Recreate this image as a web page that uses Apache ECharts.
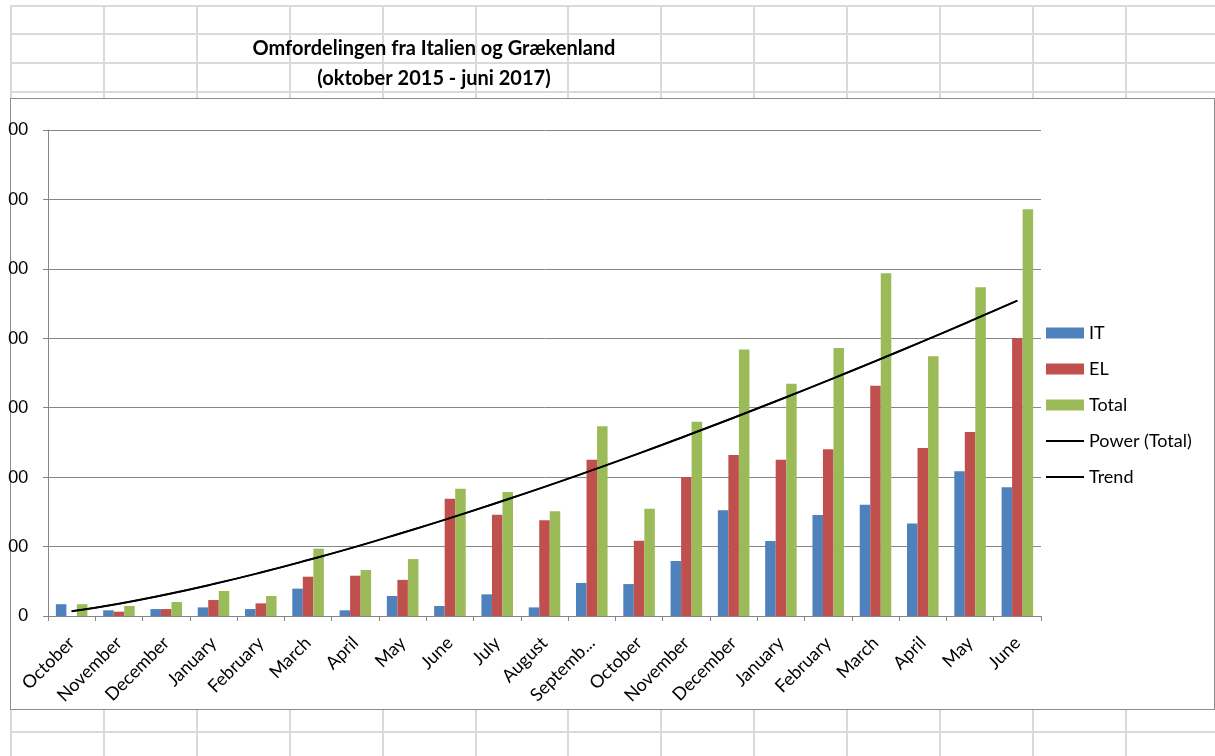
<!DOCTYPE html>
<html>
<head>
<meta charset="utf-8">
<script src="https://cdn.jsdelivr.net/npm/echarts@6/dist/echarts.min.js"></script>
<style>
  html, body { margin: 0; padding: 0; background: #fff; }
  #sheet { position: absolute; left: 0; top: 0; width: 1215px; height: 756px; overflow: hidden; background: #fff; }
  .hl { position: absolute; height: 2px; background: #dadada; }
  .vl { position: absolute; width: 2px; background: #dadada; }
  #box { position: absolute; left: 10px; top: 98px; width: 1203px; height: 610px; background: #fff; border: 1px solid #8c8c8c; }
  #chart { position: absolute; left: 0; top: 0; width: 1215px; height: 756px; }
</style>
</head>
<body>
<div id="sheet"></div>
<div id="box"></div>
<div id="chart"></div>
<script>
// ---- data ----
const categories = ['October','November','December','January','February','March','April','May','June','July','August','September','October','November','December','January','February','March','April','May','June'];
const IT    = [85, 41, 50, 62, 50, 197, 41, 144, 72, 156, 62, 238, 230, 396, 761, 540, 727, 801, 667, 1042, 927];
const EL    = [0, 31, 50, 115, 91, 283, 290, 260, 845, 730, 689, 1125, 542, 1001, 1159, 1125, 1200, 1658, 1210, 1325, 2002];
const Total = [85, 72, 101, 180, 144, 485, 331, 410, 917, 893, 755, 1366, 773, 1399, 1920, 1672, 1930, 2468, 1870, 2368, 2930];
const powerTotal = [34, 89, 155, 230, 313, 403, 498, 600, 705, 816, 930, 1049, 1171, 1298, 1428, 1561, 1697, 1836, 1978, 2123, 2271];
const trend = powerTotal;
const titleLines = ['Omfordelingen fra Italien og Grækenland', '(oktober 2015 - juni 2017)'];

// ---- spreadsheet background lines ----
const sheet = document.getElementById('sheet');
const rowsY = [5, 33, 62, 91, 731];
const colsX = [10, 103, 196, 289, 382, 475, 567, 660, 753, 846, 939, 1032, 1125];
rowsY.forEach(y => { const d = document.createElement('div'); d.className = 'hl'; d.style.left = '10px'; d.style.top = y + 'px'; d.style.width = '1205px'; sheet.appendChild(d); });
colsX.forEach(x => { const d = document.createElement('div'); d.className = 'vl'; d.style.left = x + 'px'; d.style.top = '5px'; d.style.height = '751px'; sheet.appendChild(d); });

const FONT = 'Lato, "Open Sans", sans-serif';
const lineIcon = 'path://M0,0H38V2H0Z';
const chart = echarts.init(document.getElementById('chart'));
chart.setOption({
  animation: false,
  title: {
    text: titleLines.join('\n'),
    left: 429, top: 29, textAlign: 'center',
    textStyle: { fontFamily: FONT, fontWeight: 'bold', fontSize: 20, lineHeight: 30, color: '#000' }
  },
  legend: {
    orient: 'vertical', left: 1041, top: 319,
    itemWidth: 38, itemHeight: 11, itemGap: 18,
    textStyle: { fontFamily: FONT, fontSize: 18, color: '#000', lineHeight: 18 },
    data: [
      { name: 'IT', icon: 'rect' },
      { name: 'EL', icon: 'rect' },
      { name: 'Total', icon: 'rect' },
      { name: 'Power (Total)', icon: lineIcon },
      { name: 'Trend', icon: lineIcon }
    ]
  },
  grid: { left: 48, right: 174, top: 130, bottom: 140 },
  xAxis: {
    type: 'category', data: categories, boundaryGap: true,
    axisLine: { lineStyle: { color: '#868686', width: 1 } },
    axisTick: { show: true, length: 5, lineStyle: { color: '#868686' } },
    axisLabel: {
      interval: 0, rotate: 45, margin: 24, color: '#000', fontFamily: FONT, fontSize: 18,
      formatter: v => v.length > 8 ? v.slice(0, 7) + '...' : v
    }
  },
  yAxis: {
    type: 'value', min: 0, max: 3500, interval: 500,
    axisLine: { show: true, lineStyle: { color: '#868686' } },
    axisTick: { show: true, length: 5, lineStyle: { color: '#868686' } },
    splitLine: { lineStyle: { color: '#868686', width: 1 } },
    axisLabel: {
      margin: 20, color: '#000', fontFamily: FONT, fontSize: 17,
      formatter: v => v === 0 ? '0' : String(v).slice(-2)
    }
  },
  series: [
    { name: 'IT', type: 'bar', data: IT, barGap: '0%', barCategoryGap: '33.3%', itemStyle: { color: '#4F81BD' } },
    { name: 'EL', type: 'bar', data: EL, barGap: '0%', barCategoryGap: '33.3%', itemStyle: { color: '#C0504D' } },
    { name: 'Total', type: 'bar', data: Total, barGap: '0%', barCategoryGap: '33.3%', itemStyle: { color: '#9BBB59' } },
    { name: 'Power (Total)', type: 'line', data: powerTotal, smooth: true, symbol: 'none', z: 5, lineStyle: { color: '#000', width: 2 }, itemStyle: { color: '#000' } },
    { name: 'Trend', type: 'line', data: trend, smooth: true, symbol: 'none', z: 5, lineStyle: { color: '#000', width: 1.5 }, itemStyle: { color: '#000' } }
  ]
});
</script>
</body>
</html>
